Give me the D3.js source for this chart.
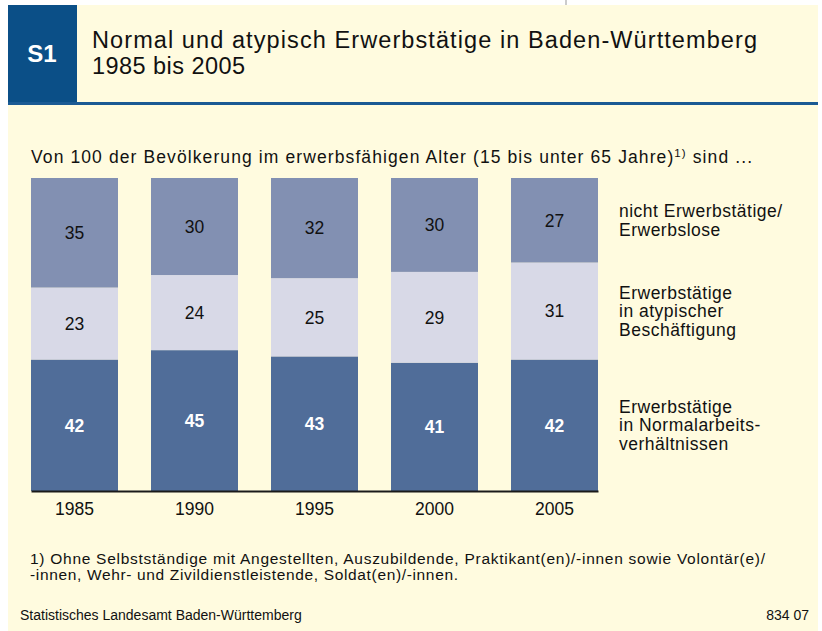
<!DOCTYPE html>
<html>
<head>
<meta charset="utf-8">
<script src="https://cdn.jsdelivr.net/npm/d3@7"></script>
<style>
  html, body { margin: 0; padding: 0; background: #fff; }
  svg { display: block; font-family: "Liberation Sans", Arial, Helvetica, sans-serif; }
</style>
</head>
<body>
<div id="chart"></div>
<script>
// data (values per 100 of the population aged 15-65)
const years = ['1985', '1990', '1995', '2000', '2005'];
const normal = [42, 45, 43, 41, 42];
const atypical = [23, 24, 25, 29, 31];
const notEmployed = [35, 30, 32, 30, 27];

const keys = ['normal', 'atypical', 'notEmployed'];
const legendLines = [
  ['Erwerbstätige', 'in Normalarbeits-', 'verhältnissen'],
  ['Erwerbstätige', 'in atypischer', 'Beschäftigung'],
  ['nicht Erwerbstätige/', 'Erwerbslose']
];
const fills = ['#506d99', '#d8d9e7', '#8290b2'];
const labelColors = ['#fff', '#111', '#111'];

const title = ['Normal und atypisch Erwerbstätige in Baden-Württemberg', '1985 bis 2005'];
const footnote = [
  '1) Ohne Selbstständige mit Angestellten, Auszubildende, Praktikant(en)/-innen sowie Volontär(e)/',
  '-innen, Wehr- und Zivildienstleistende, Soldat(en)/-innen.'
];

const w = 822;
const h = 631;
const cream = '#fffbdf';
const blue = '#0b4f87';

const svg = d3.select('#chart').append('svg').attr('width', w).attr('height', h);

// stretch a text to a given width with letter spacing
const fit = (sel, width) => {
  const n = sel.node();
  const len = n.getComputedTextLength();
  const chars = n.textContent.length;
  if (chars > 1) sel.attr('letter-spacing', (width - len) / (chars - 1));
  return sel;
};

// frame + header
svg.append('line').attr('x1', 566).attr('x2', 566).attr('y1', 0).attr('y2', 5)
  .attr('stroke', '#999').attr('stroke-width', 1);
svg.append('rect').attr('x', 8).attr('y', 5).attr('width', 810).attr('height', h - 5).attr('fill', cream);
svg.append('rect').attr('x', 8).attr('y', 5).attr('width', 69).attr('height', 99).attr('fill', blue);
svg.append('rect').attr('x', 8).attr('y', 102).attr('width', 810).attr('height', 3).attr('fill', '#1b5a94');
svg.append('text').attr('x', 42).attr('y', 62).attr('text-anchor', 'middle')
  .attr('fill', '#fff').attr('font-weight', 'bold').attr('font-size', 24).text('S1');

fit(svg.append('text').attr('x', 92).attr('y', 48).attr('font-size', 23.5).attr('fill', '#111').text(title[0]), 665);
fit(svg.append('text').attr('x', 92).attr('y', 74).attr('font-size', 23.5).attr('fill', '#111').text(title[1]), 153);

// subtitle
const sub = svg.append('text').attr('x', 31).attr('y', 163).attr('font-size', 17.5).attr('fill', '#111');
sub.append('tspan').text('Von 100 der Bevölkerung im erwerbsfähigen Alter (15 bis unter 65 Jahre)');
sub.append('tspan').attr('font-size', 11.5).attr('dy', -6).text('1)');
sub.append('tspan').attr('dy', 6).text(' sind ...');
fit(sub, 721);

// scales
const x = d3.scaleBand().domain(years).range([31, 598]).paddingInner(0.275).paddingOuter(0);
const y = d3.scaleLinear().domain([0, 100]).range([491, 178]);

const rows = years.map((yr, i) => ({
  year: yr, normal: normal[i], atypical: atypical[i], notEmployed: notEmployed[i]
}));
const stacked = d3.stack().keys(keys)(rows);

const layers = svg.append('g').selectAll('g').data(stacked).join('g')
  .attr('fill', (d, i) => fills[i]);

// the top layer fills the bar up to 100 (published values are rounded)
const upper = (d, li) => (li === keys.length - 1 ? y.domain()[1] : d[1]);

layers.each(function (layer, li) {
  const g = d3.select(this);
  g.selectAll('rect').data(layer).join('rect')
    .attr('x', (d) => x(d.data.year))
    .attr('width', x.bandwidth())
    .attr('y', (d) => y(upper(d, li)))
    .attr('height', (d) => y(d[0]) - y(upper(d, li)));
  g.selectAll('text').data(layer).join('text')
    .attr('x', (d) => x(d.data.year) + x.bandwidth() / 2)
    .attr('y', (d) => (y(d[0]) + y(upper(d, li))) / 2 + 17.5 * 0.36)
    .attr('text-anchor', 'middle')
    .attr('font-size', 17.5)
    .attr('font-weight', li === 0 ? 'bold' : 'normal')
    .attr('fill', labelColors[li])
    .text((d) => d.data[layer.key]);
});

// baseline axis
const axis = svg.append('g').attr('transform', `translate(0, ${y(0)})`)
  .call(d3.axisBottom(x).tickSize(0).tickPadding(12));
axis.select('.domain').attr('stroke', '#1a1a1a').attr('stroke-width', 2);
axis.selectAll('text').attr('font-size', 17.5).attr('fill', '#111')
  .attr('font-family', '"Liberation Sans", Arial, sans-serif');

// legend, centred on the last bar's segments
const last = years.length - 1;
stacked.forEach((layer, li) => {
  const d = layer[last];
  const cy = (y(d[0]) + y(upper(d, li))) / 2;
  const lines = legendLines[li];
  const lh = 18.5;
  const y0 = cy - ((lines.length - 1) * lh) / 2 + 17 * 0.36;
  lines.forEach((t, j) => {
    svg.append('text').attr('x', 619).attr('y', y0 + j * lh)
      .attr('font-size', 17.5).attr('fill', '#111').attr('letter-spacing', 0.5).text(t);
  });
});

// footnote and source
fit(svg.append('text').attr('x', 30).attr('y', 564).attr('font-size', 15.5).attr('fill', '#111').text(footnote[0]), 735);
fit(svg.append('text').attr('x', 30).attr('y', 580).attr('font-size', 15.5).attr('fill', '#111').text(footnote[1]), 428);

svg.append('text').attr('x', 20).attr('y', 620).attr('font-size', 14).attr('fill', '#111')
  .text('Statistisches Landesamt Baden-Württemberg');
svg.append('text').attr('x', 809).attr('y', 620).attr('font-size', 14).attr('fill', '#111')
  .attr('text-anchor', 'end').text('834 07');
</script>
</body>
</html>
